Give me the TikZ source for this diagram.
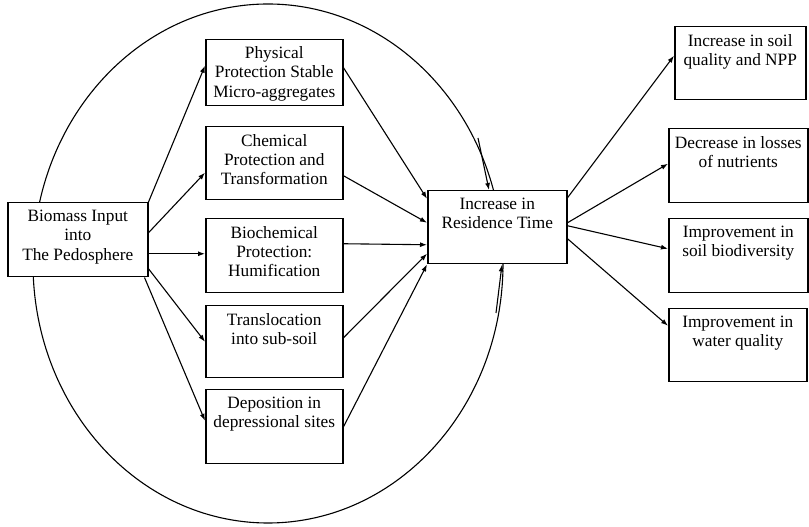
\documentclass[tikz,border=0pt]{standalone}
\usepackage{fontspec}
\setmainfont{Liberation Serif}
\usetikzlibrary{arrows.meta,calc}
\begin{document}
\begin{tikzpicture}[x=1pt,y=1pt,
  box/.style={draw, line width=1.5pt, fill=white, rectangle, inner sep=0pt, anchor=north west},
  lbl/.style={anchor=north, inner sep=0pt, align=center, font=\fontsize{17.3}{19.2}\selectfont, execute at begin node=\strut},
  conn/.style={line width=1.1pt, -{Latex[length=7pt,width=5pt]}},
]
\useasboundingbox (0,0) rectangle (809,527);

% the pedosphere
\coordinate (c) at (268,263.5);
\draw[line width=1.1pt] (c) ellipse [x radius=235pt, y radius=259.5pt];

% input
\node[box, minimum width=140pt, minimum height=74pt] (bio) at (7,325) {};
\node[lbl] (bio-t) at ([yshift=-8pt]bio.north) {Biomass Input\\into\\The Pedosphere};

% protection mechanisms
\node[box, minimum width=137pt, minimum height=66pt] (phys) at (205,488) {};
\node[lbl] (phys-t) at ([yshift=-7.5pt]phys.north) {Physical\\Protection Stable\\Micro-aggregates};
\node[box, minimum width=137pt, minimum height=73pt] (chem) at (205,401) {};
\node[lbl] (chem-t) at ([yshift=-8pt]chem.north) {Chemical\\Protection and\\Transformation};
\node[box, minimum width=137pt, minimum height=74pt] (bioch) at (205,309) {};
\node[lbl] (bioch-t) at ([yshift=-8pt]bioch.north) {Biochemical\\Protection:\\Humification};
\node[box, minimum width=137pt, minimum height=72pt] (trans) at (205,222) {};
\node[lbl] (trans-t) at ([yshift=-8pt]trans.north) {Translocation\\into sub-soil};
\node[box, minimum width=137pt, minimum height=74pt] (depo) at (205,138) {};
\node[lbl] (depo-t) at ([yshift=-8pt]depo.north) {Deposition in\\depressional sites};

% residence time
\node[box, minimum width=139pt, minimum height=73pt] (res) at (427,337) {};
\node[lbl] (res-t) at ([yshift=-8pt]res.north) {Increase in\\Residence Time};

% outcomes
\node[box, minimum width=131pt, minimum height=73pt] (out1) at (674,501) {};
\node[lbl] (out1-t) at ([yshift=-8pt]out1.north) {Increase in soil\\quality and NPP};
\node[box, minimum width=139pt, minimum height=74pt] (out2) at (668,399) {};
\node[lbl] (out2-t) at ([yshift=-8pt]out2.north) {Decrease in losses\\of nutrients};
\node[box, minimum width=139pt, minimum height=74pt] (out3) at (668,309) {};
\node[lbl] (out3-t) at ([yshift=-8pt]out3.north) {Improvement in\\soil biodiversity};
\node[box, minimum width=138pt, minimum height=73pt] (out4) at (668,219) {};
\node[lbl] (out4-t) at ([yshift=-8pt]out4.north) {Improvement in\\water quality};

% input to mechanisms
\draw[conn] (bio.north east) -- ([yshift=7pt]phys.west);
\draw[conn] ([yshift=7pt]bio.east) -- ([yshift=-9.5pt]chem.west);
\draw[conn] ([yshift=-14pt]bio.east) -- ([yshift=-14pt]bio.east -| bioch.west);
\draw[conn] ([yshift=-29pt]bio.east) -- (trans.west);
\draw[conn] ([xshift=-4pt]bio.south east) -- ([yshift=6pt]depo.west);

% mechanisms to residence time
\draw[conn] ([yshift=5pt]phys.east) -- ([yshift=28.5pt]res.west);
\draw[conn] ([yshift=-12.5pt]chem.east) -- ([yshift=4.5pt]res.west);
\draw[conn] ([yshift=12pt]bioch.east) -- ([yshift=-17.5pt]res.west);
\draw[conn] ([yshift=4pt]trans.east) -- ([yshift=-26.5pt]res.west);
\draw[conn] (depo.east) -- (res.south west);

% residence time to outcomes
\draw[conn] ([yshift=29.5pt]res.east) -- ([yshift=7.5pt]out1.west);
\draw[conn] ([yshift=4.5pt]res.east) -- ([yshift=2pt]out2.west);
\draw[conn] ([yshift=1.5pt]res.east) -- ([yshift=7pt]out3.west);
\draw[conn] ([yshift=-11.5pt]res.east) -- ([yshift=19.5pt]out4.west);

% arrows along the pedosphere boundary
\coordinate (s1) at (478,389);
\coordinate (s2) at (496,214);
\draw[conn] (s1) -- ([xshift=62pt]res.north west);
\draw[conn] (s2) -- ([xshift=75pt]res.south west);
\end{tikzpicture}
\end{document}
